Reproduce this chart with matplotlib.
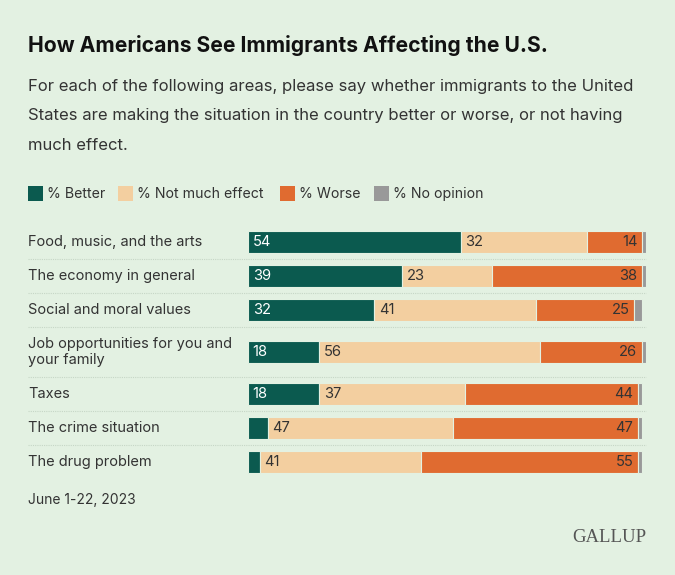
import numpy as np
import matplotlib.pyplot as plt
from matplotlib.patches import Rectangle

# data
areas = ['Food, music, and the arts', 'The economy in general', 'Social and moral values',
         'Job opportunities for you and\nyour family', 'Taxes', 'The crime situation',
         'The drug problem']
better = [54, 39, 32, 18, 18, 5, 3]
not_much = [32, 23, 41, 56, 37, 47, 41]
worse = [14, 38, 25, 26, 44, 47, 55]
no_opinion = [1, 1, 2, 1, 1, 1, 1]

series_names = ['% Better', '% Not much effect', '% Worse', '% No opinion']
colors = ['#0b5a4f', '#f3cfa0', '#e06b30', '#999999']
bg = '#e3f1e2'
dark = '#333333'

plt.rcParams['font.family'] = ['Inter', 'DejaVu Sans']

W, H = 675, 575
fig = plt.figure(figsize=(W / 100, H / 100), dpi=100, facecolor=bg)

def fx(px):
    return px / W

def fy(py):
    return 1 - py / H

# title / subtitle
fig.text(fx(28), fy(46), 'How Americans See Immigrants Affecting the U.S.', fontsize=15.2,
         fontweight='bold', color='#111111', va='center', ha='left')
sub = ['For each of the following areas, please say whether immigrants to the United',
       'States are making the situation in the country better or worse, or not having',
       'much effect.']
for i, line in enumerate(sub):
    fig.text(fx(28), fy(86 + i * 29.5), line, fontsize=12, color=dark, va='center', ha='left')

# legend
leg_x = [28, 118, 280, 374]
for x0, name, c in zip(leg_x, series_names, colors):
    fig.patches.append(Rectangle((fx(x0), fy(201)), 15 / W, 15 / H, transform=fig.transFigure,
                                 facecolor=c, edgecolor='none'))
    fig.text(fx(x0 + 19), fy(194), name, fontsize=10.2, color=dark, va='center', ha='left')

# row layout: two-line labels get taller rows
heights = np.array([1.45 if '\n' in a else 1.0 for a in areas])
tops = np.concatenate([[0], np.cumsum(heights)[:-1]])
centers = tops + heights / 2
total = heights.sum()

top_px, bot_px = 225, 479
left_px, right_px = 248, 646
ax = fig.add_axes([fx(left_px), fy(bot_px), (right_px - left_px) / W, (bot_px - top_px) / H])
ax.set_facecolor(bg)
ax.set_xlim(0, 101)
ax.set_ylim(total, 0)
ax.axis('off')

bar_h = 0.65
lefts = np.zeros(len(areas))
for vals, c in zip([better, not_much, worse, no_opinion], colors):
    ax.barh(centers, vals, left=lefts, height=bar_h, color=c, edgecolor=bg, linewidth=0.8)
    lefts = lefts + np.array(vals)

for i in range(len(areas)):
    y = centers[i]
    if better[i] >= 10:
        ax.text(1.2, y, str(better[i]), color='white', fontsize=10.6, va='center', ha='left')
    ax.text(better[i] + 1.2, y, str(not_much[i]), color=dark, fontsize=10.6, va='center', ha='left')
    end = better[i] + not_much[i] + worse[i]
    ax.text(end - 1.2, y, str(worse[i]), color=dark, fontsize=10.6, va='center', ha='right')

# category labels and dotted separators
for i, a in enumerate(areas):
    py = top_px + centers[i] / total * (bot_px - top_px)
    fig.text(fx(28), fy(py), a, fontsize=10.5, color=dark, va='center', ha='left', linespacing=1.2)
    if i > 0:
        sy = top_px + tops[i] / total * (bot_px - top_px)
        fig.add_artist(plt.Line2D([fx(28), fx(646)], [fy(sy), fy(sy)], color='#c6d6c6',
                                  linewidth=0.8, linestyle=(0, (1, 1)), zorder=0))

fig.text(fx(28), fy(500), 'June 1-22, 2023', fontsize=10, color=dark, va='center', ha='left')
fig.text(fx(646), fy(538), 'GALLUP', fontsize=13.5, color='#555555', va='center', ha='right',
         family='Liberation Serif')

fig.savefig('out.png', dpi=100, facecolor=bg)
